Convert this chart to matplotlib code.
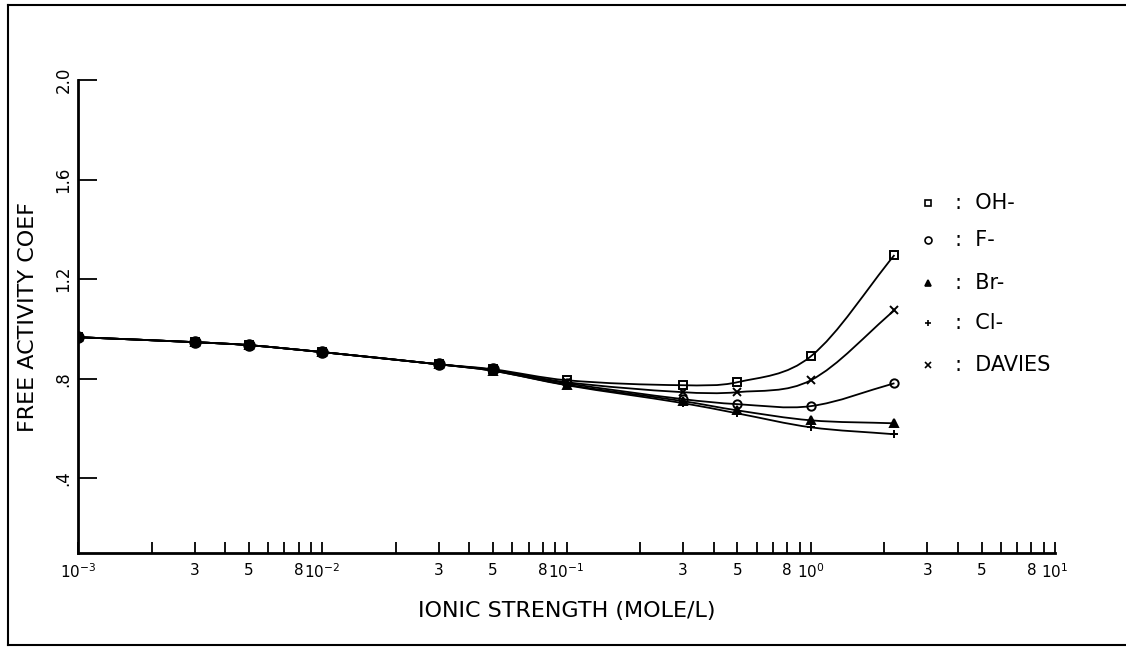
import numpy as np
import matplotlib
matplotlib.use("Agg")
import matplotlib.pyplot as plt
from matplotlib.path import Path
from matplotlib.patches import PathPatch
from matplotlib.lines import Line2D

# ionic strength (mole/L)
strength = [0.001, 0.003, 0.005, 0.01, 0.03, 0.05, 0.1, 0.3, 0.5, 1.0, 2.2]

# free activity coefficient
oh = [0.967, 0.947, 0.935, 0.907, 0.858, 0.838, 0.794, 0.774, 0.786, 0.890, 1.297]
f = [0.967, 0.947, 0.935, 0.907, 0.858, 0.834, 0.782, 0.718, 0.698, 0.690, 0.782]
br = [0.967, 0.947, 0.935, 0.907, 0.858, 0.832, 0.776, 0.710, 0.673, 0.633, 0.621]
cl = [0.967, 0.947, 0.935, 0.907, 0.858, 0.832, 0.774, 0.702, 0.661, 0.605, 0.577]
davies = [0.967, 0.947, 0.935, 0.907, 0.858, 0.836, 0.786, 0.746, 0.746, 0.794, 1.075]

series = [
    ("OH-", oh, "s", "none"),
    ("F-", f, "o", "none"),
    ("Br-", br, "^", "black"),
    ("Cl-", cl, "+", "black"),
    ("DAVIES", davies, "x", "black"),
]

ytick_vals = [0.4, 0.8, 1.2, 1.6, 2.0]
ytick_text = [".4", ".8", "1.2", "1.6", "2.0"]


def smooth_path(xs, ys):
    # cubic Hermite through the points in log-x, written as Bezier segments
    lx = np.log10(xs)
    ys = np.asarray(ys, float)
    n = len(lx)
    m = np.empty(n)
    m[0] = (ys[1] - ys[0]) / (lx[1] - lx[0])
    m[-1] = (ys[-1] - ys[-2]) / (lx[-1] - lx[-2])
    for i in range(1, n - 1):
        m[i] = (ys[i + 1] - ys[i - 1]) / (lx[i + 1] - lx[i - 1])
    verts = [(xs[0], ys[0])]
    codes = [Path.MOVETO]
    for i in range(n - 1):
        h = (lx[i + 1] - lx[i]) / 3
        verts += [(10 ** (lx[i] + h), ys[i] + m[i] * h),
                  (10 ** (lx[i + 1] - h), ys[i + 1] - m[i + 1] * h),
                  (xs[i + 1], ys[i + 1])]
        codes += [Path.CURVE4] * 3
    return Path(verts, codes)


fig = plt.figure(figsize=(11.26, 6.48), dpi=100)
ax = fig.add_axes([0.0693, 0.1466, 0.8677, 0.7299])

for name, vals, mk, fc in series:
    ax.add_patch(PathPatch(smooth_path(strength, vals), fill=False,
                           edgecolor="black", lw=1.3))
    ax.plot(strength, vals, ls="none", marker=mk, ms=6, mfc=fc,
            mec="black", mew=1.4)
# the low-strength points overlap into solid dots
ax.plot(strength[:6], oh[:6], ls="none", marker="o", ms=8, color="black")

ax.set_xscale("log")
ax.set_xlim(1e-3, 1e1)
ax.set_ylim(0.1, 2.0)

decades = [1e-3, 1e-2, 1e-1, 1e0, 1e1]
dec_text = ["10$^{-3}$", "10$^{-2}$", "10$^{-1}$", "10$^{0}$", "10$^{1}$"]
xt, xl = [], []
for d, t in zip(decades, dec_text):
    xt.append(d)
    xl.append(t)
    if d < 1e1:
        for k in range(2, 10):
            xt.append(k * d)
            xl.append(str(k) if k in (3, 5, 8) else "")
ax.set_xticks(xt)
ax.set_xticklabels(xl, fontsize=11)
ax.minorticks_off()
ax.tick_params(axis="x", direction="in", length=8, width=1.3, pad=7)

ax.set_yticks(ytick_vals)
ax.set_yticklabels(ytick_text, rotation=90, va="center", fontsize=12)
ax.tick_params(axis="y", direction="in", length=14, width=1.3, pad=4)

for s in ("top", "right"):
    ax.spines[s].set_visible(False)
for s in ("left", "bottom"):
    ax.spines[s].set_linewidth(2)

ax.set_xlabel("IONIC STRENGTH (MOLE/L)", fontsize=16, labelpad=14)
ax.set_ylabel("FREE ACTIVITY COEF", fontsize=16, labelpad=12)

# legend as drawn in the original: marker, colon, name
leg_y = [203, 240, 283, 323, 365]
for (name, vals, mk, fc), py in zip(series, leg_y):
    yy = 1 - py / 648
    fig.add_artist(Line2D([928 / 1126], [yy], marker=mk, ms=5, mfc=fc,
                          mec="black", mew=1.2, ls="none",
                          transform=fig.transFigure))
    fig.text(955 / 1126, yy, ":  " + name, fontsize=15, va="center",
             ha="left")

# frame around the figure
for xs_, ys_ in [([8, 1126], [5, 5]), ([8, 8], [5, 645]), ([8, 1126], [645, 645])]:
    fig.add_artist(Line2D([x / 1126 for x in xs_], [1 - y / 648 for y in ys_],
                          color="black", lw=1.5, transform=fig.transFigure))

fig.savefig("out.png", dpi=100)
